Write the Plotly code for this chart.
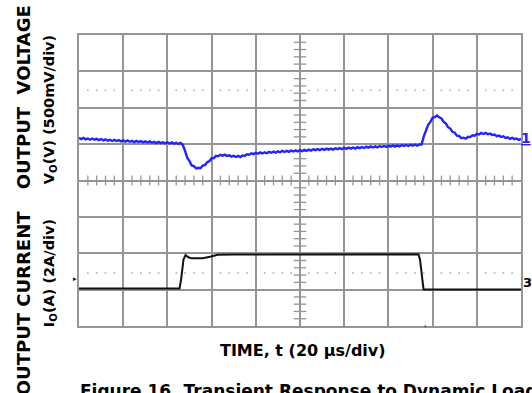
import plotly.graph_objects as go

# Time base: 20 us/div, 10 divisions
time_us = list(range(0, 201))

# Output voltage deviation (mV), 500 mV/div
vout_mv = [
    8, -9, 6, -13, -1, -18, -2, -18, -7, -24,
    -9, -26, -12, -31, -18, -35, -20, -36, -24, -41,
    -26, -43, -28, -46, -34, -50, -35, -50, -38, -55,
    -40, -56, -42, -60, -48, -64, -48, -64, -52, -68,
    -54, -70, -55, -73, -60, -76, -61, -91, -173, -268,
    -312, -372, -381, -413, -404, -409, -372, -366, -328, -313,
    -272, -269, -239, -246, -226, -239, -224, -242, -233, -251,
    -238, -255, -241, -256, -234, -241, -217, -224, -205, -216,
    -197, -210, -192, -207, -191, -204, -185, -197, -182, -195,
    -177, -190, -172, -187, -171, -185, -167, -180, -165, -178,
    -161, -174, -156, -171, -155, -168, -149, -161, -146, -160,
    -143, -157, -140, -155, -140, -154, -135, -148, -133, -147,
    -129, -143, -125, -141, -125, -139, -120, -133, -118, -132,
    -114, -127, -110, -125, -110, -124, -105, -118, -104, -117,
    -100, -113, -96, -112, -96, -110, -92, -104, -90, -104,
    -87, -101, -84, -100, -84, -84, 28, 104, 187, 227,
    283, 291, 315, 290, 276, 226, 203, 154, 135, 90,
    78, 38, 34, 2, 10, -3, 22, 18, 42, 37,
    62, 54, 75, 61, 75, 57, 68, 46, 52, 30,
    40, 19, 29, 6, 14, -5, 8, -10, -1, -20,
    -6,
]

# Output current (A), 2 A/div
iout_t = [0, 45.5, 46.2, 47.3, 48.2, 49.5, 51, 56, 59.8, 62.7, 70, 100, 153.6, 154.3, 155.2, 155.9, 200]
iout_a = [0.0, 0.0, 0.5, 1.6, 1.84, 1.72, 1.66, 1.66, 1.76, 1.86, 1.87, 1.88, 1.88, 1.6, 0.6, -0.05, -0.05]

# Screen geometry in divisions
X_DIVS, Y_DIVS = 10, 8
T_PER_DIV = 20
MV_PER_DIV = 500
A_PER_DIV = 2
V_ZERO_DIV = 5.157   # vertical position of channel 1 reference
I_ZERO_DIV = 1.030   # vertical position of channel 3 reference

v_lo = -V_ZERO_DIV * MV_PER_DIV
v_hi = (Y_DIVS - V_ZERO_DIV) * MV_PER_DIV
i_lo = -I_ZERO_DIV * A_PER_DIV
i_hi = (Y_DIVS - I_ZERO_DIV) * A_PER_DIV

def div_to_mv(d):
    return v_lo + d * MV_PER_DIV

GRID = "#959595"
FONT = "DejaVu Sans"
fig = go.Figure()

# centre graticule minor ticks
minor_y = [div_to_mv(k / 5) for k in range(1, Y_DIVS * 5) if k % 5]
fig.add_trace(go.Scatter(
    x=[X_DIVS / 2 * T_PER_DIV] * len(minor_y), y=minor_y, mode="markers",
    marker=dict(symbol="line-ew", size=9, line=dict(color=GRID, width=1.3)),
    hoverinfo="skip", showlegend=False))
minor_x = [k * T_PER_DIV / 5 for k in range(1, X_DIVS * 5) if k % 5]
fig.add_trace(go.Scatter(
    x=minor_x, y=[div_to_mv(Y_DIVS / 2)] * len(minor_x), mode="markers",
    marker=dict(symbol="line-ns", size=7, line=dict(color=GRID, width=1.3)),
    hoverinfo="skip", showlegend=False))

# dotted reference levels
for lvl in (6.48, 1.46):
    fig.add_trace(go.Scatter(
        x=minor_x, y=[div_to_mv(lvl)] * len(minor_x), mode="markers",
        marker=dict(symbol="circle", size=2, color="#b8b8b8"),
        hoverinfo="skip", showlegend=False))

# current trace (channel 3)
fig.add_trace(go.Scatter(
    x=iout_t, y=iout_a, yaxis="y2", mode="lines",
    line=dict(color="#111111", width=2), hoverinfo="skip", showlegend=False))

# voltage trace (channel 1)
fig.add_trace(go.Scatter(
    x=time_us, y=vout_mv, mode="lines",
    line=dict(color="#2323ff", width=2.4), hoverinfo="skip", showlegend=False))

fig.update_layout(
    width=532, height=393,
    margin=dict(l=79, r=9, t=35, b=67),
    paper_bgcolor="white", plot_bgcolor="white",
    font=dict(family=FONT, color="black"),
    xaxis=dict(range=[0, X_DIVS * T_PER_DIV], dtick=T_PER_DIV, tick0=0,
               showgrid=True, gridcolor=GRID, gridwidth=1.5,
               showline=True, mirror=True, linecolor=GRID, linewidth=1.5,
               showticklabels=False, ticks="", zeroline=False),
    yaxis=dict(range=[v_lo, v_hi], dtick=MV_PER_DIV, tick0=v_lo,
               showgrid=True, gridcolor=GRID, gridwidth=1.5,
               showline=True, mirror=True, linecolor=GRID, linewidth=1.5,
               showticklabels=False, ticks="", zeroline=False),
    yaxis2=dict(range=[i_lo, i_hi], overlaying="y", showgrid=False,
                showticklabels=False, ticks="", zeroline=False, showline=False),
)

def py(p):
    """pixel row -> paper y"""
    return (326 - p) / 291

def px(p):
    """pixel column -> paper x"""
    return (p - 79) / 444

ann = [
    dict(text="<b>OUTPUT CURRENT</b>", x=px(23), y=py(303), size=18),
    dict(text="<b>OUTPUT  VOLTAGE</b>", x=px(23), y=py(97), size=18),
    dict(text="<b>I<sub>O</sub>(A) (2A/div)</b>", x=px(50), y=py(273), size=14.5),
    dict(text="<b>V<sub>O</sub>(V) (500mV/div)</b>", x=px(50), y=py(110), size=14.5),
]
for a in ann:
    fig.add_annotation(text=a["text"], x=a["x"], y=a["y"], xref="paper", yref="paper",
                       textangle=-90, showarrow=False, xanchor="center", yanchor="middle",
                       font=dict(size=a["size"], color="black"))

fig.add_annotation(text="<b>TIME, t (20 µs/div)</b>", x=px(304), y=py(350),
                   xref="paper", yref="paper", showarrow=False,
                   xanchor="center", yanchor="middle", font=dict(size=16))
fig.add_annotation(text="<b>Figure 16. Transient Response to Dynamic Load</b>",
                   x=px(78), y=py(391), xref="paper", yref="paper", showarrow=False,
                   xanchor="left", yanchor="middle", font=dict(size=17))

# channel markers on the right edge
fig.add_annotation(text="<b><u>1</u></b>", x=px(528), y=py(138), xref="paper", yref="paper",
                   showarrow=False, xanchor="center", yanchor="middle",
                   font=dict(size=14, color="#2323ff"))
fig.add_annotation(text="<b>3</b>", x=px(530), y=py(282), xref="paper", yref="paper",
                   showarrow=False, xanchor="center", yanchor="middle",
                   font=dict(size=13, color="black"))
# trigger level / position indicators
fig.add_annotation(text="▸", x=px(75), y=py(279), xref="paper", yref="paper",
                   showarrow=False, xanchor="center", yanchor="middle",
                   font=dict(size=7, color="black"))
fig.add_annotation(text="'", x=px(427), y=py(329), xref="paper", yref="paper",
                   showarrow=False, xanchor="center", yanchor="middle",
                   font=dict(size=8, color="black"))

fig.write_html("out.html")
